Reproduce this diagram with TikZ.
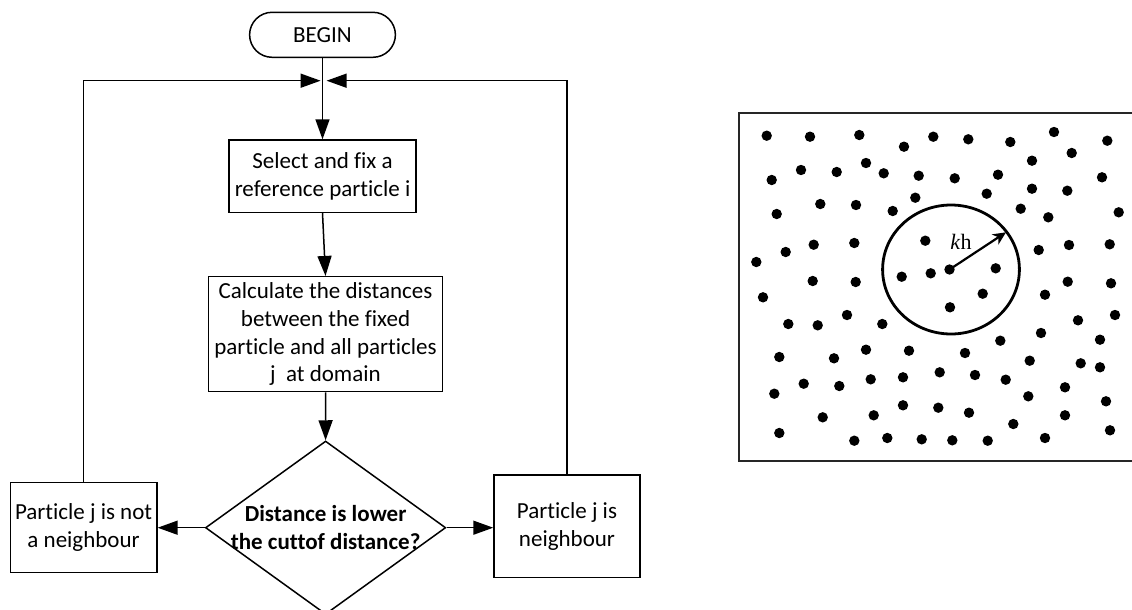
\documentclass[tikz,border=0pt]{standalone}
\usepackage{fontspec}
\setmainfont{Carlito}[Ligatures={NoCommon}]
\newfontfamily\khfont{Liberation Serif}
\usetikzlibrary{arrows.meta,shapes.geometric}
\tikzset{
  flow/.style={line width=1.5pt, draw=black},
  fbox/.style={draw=black, line width=1.5pt, rectangle, inner sep=0pt, align=center,
     font=\fontsize{23}{27.8}\selectfont},
  farrow/.style={flow, -{Triangle[length=20pt,width=14pt]}},
  dot/.style={fill=black},
}
\begin{document}
\begin{tikzpicture}[x=1pt,y=-1pt]
\useasboundingbox (0,0) rectangle (1132,610);
% ---------- flowchart ----------
\node[fbox, rounded corners=22.5pt, minimum width=145.8pt, minimum height=45pt] (begin) at (322.5,34.8) {BEGIN};
\node[fbox, minimum width=187.1pt, minimum height=72.3pt] (select) at (322.5,176.2) {Select and fix a\\reference particle i};
\node[fbox, minimum width=233.8pt, minimum height=115pt] (calc) at (325.5,334.2)
  {Calculate the distances\\between the fixed\\particle and all particles\\j~ at domain};
\node[draw=black, line width=1.5pt, diamond, inner sep=0pt, minimum width=240.3pt, minimum height=173.4pt] (dec) at (325.6,527.7) {};
\node[align=center, font=\fontsize{23}{27.8}\selectfont\bfseries] (dectext) at (325.6,527.2) {Distance is lower\\the cuttof distance?};
\node[fbox, minimum width=146.6pt, minimum height=90.4pt] (notn) at (83.6,527.5) {Particle j is not\\a neighbour};
\node[fbox, minimum width=146pt, minimum height=102.3pt] (isn) at (567,526.2) {Particle j is\\neighbour};
\coordinate (junc) at (322.6,80.7);
\draw[farrow] (begin.south) -- (select.north);
\draw[farrow] (select.south) -- (calc.north);
\draw[farrow] (calc.south) -- (dec.north);
\draw[farrow] (dec.west) -- (notn.east |- dec.west);
\draw[farrow] (dec.east) -- (isn.west |- dec.east);
\draw[farrow, shorten >=2pt] (notn.north) |- (junc);
\draw[farrow, shorten >=4pt] (isn.north) |- (junc);
% ---------- particle domain ----------
\draw[line width=1.8pt, draw=black!85] (739.3,112.7) rectangle (1145,461);
\foreach \x/\y in {766.7/135.7, 810/136.7, 859.3/135, 904/146.7, 933.3/136.7, 968.3/139.3, 1010.3/142, 1054/132, 1107.3/140.7, 1071.7/153, 1032/160.7,
 771.7/180, 801/170, 836.7/172, 866/163, 883.7/173.3, 918.7/175.7, 954.7/178.3, 998/174.7, 1102/177.3,
 776.7/214, 820.3/204, 856/205, 892.7/211, 915.3/197.7, 986.7/193.7, 1032/188.7, 1067.3/190.7, 1020.7/208.7, 1048.3/217.3, 1118.7/212.3,
 756.3/262, 785.7/252, 813.7/244.7, 854.3/243, 925.3/240.7, 1038.7/250, 1069/245, 1109.7/244.3,
 812.7/281, 855.7/282, 901.7/276.7, 930.7/273.3, 995.7/268.3, 1067.7/281.7, 1111/283.3,
 763/297.3, 982.7/293.7, 950/307.3, 1045/294.7,
 788.3/324, 817.7/325.3, 847/315, 882.3/324, 1078/320.3, 1115/315, 1041/333, 1000.3/340.7, 1100/339.7,
 779.3/357, 834/358.3, 866/349.7, 909/350.7, 965/353, 1029.7/360.7, 1080.7/363.3, 1100/367.3,
 774.3/393.7, 803.7/383.7, 839.3/386, 870.7/379.3, 903/377.3, 939.7/372.3, 975/375, 1005.7/379.7, 1065/387.3, 1028.3/396.3, 1106/401.3,
 822.7/417.3, 873.7/415.3, 903/405.3, 938.3/407.7, 969/412.7, 1013.3/424, 1065/415.3, 1110/430.3,
 779.3/433, 854.3/440.7, 887.3/438, 921.7/439.3, 952.3/440.3, 987.7/440.7, 1045/438}
  \fill[dot] (\x,\y) circle[radius=5.2pt];
\coordinate (ctr) at (949.5,269.5);
\coordinate (tip) at (1006,232.3);
\fill[dot] (ctr) circle[radius=5.2pt];
\draw[line width=2.8pt] (951,269.5) ellipse[x radius=68.4pt, y radius=64.5pt];
\draw[line width=2.2pt, -{Stealth[length=13pt,width=12pt,inset=4pt]}] (ctr) -- (tip);
\node[font=\khfont\fontsize{22}{24}\selectfont, inner sep=0pt] (kh) at (961,242) {\textit{k}h};
\end{tikzpicture}
\end{document}
